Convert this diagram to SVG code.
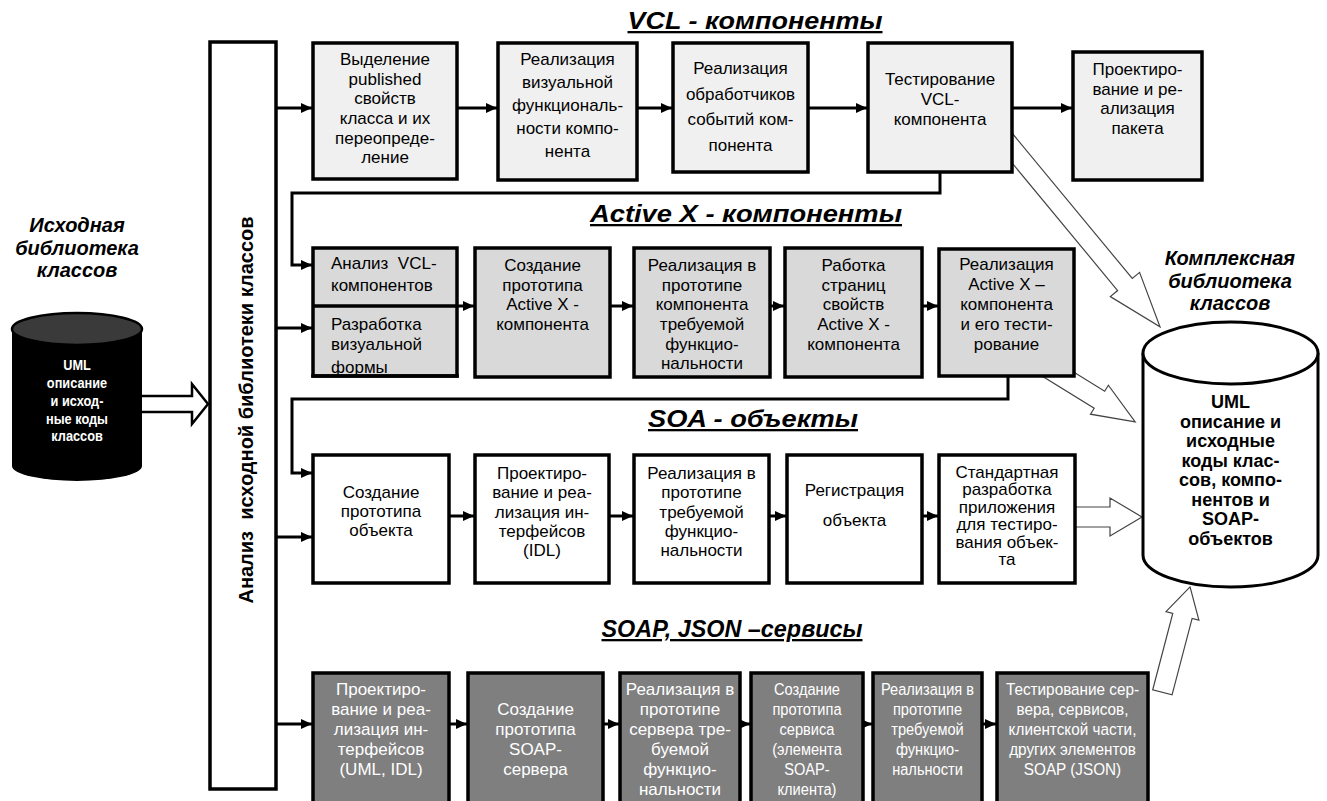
<svg xmlns="http://www.w3.org/2000/svg" width="1327" height="801" viewBox="0 0 1327 801">
<style>
  .box{stroke:#000;stroke-width:3.5}
  .vcl{fill:#f0f0f0}
  .ax{fill:#d9d9d9}
  .soa{fill:#fff}
  .soap{fill:#7f7f7f}
  .t{font-family:"Liberation Sans",Arial,sans-serif;font-size:17px;fill:#000;text-anchor:middle}
  .tl{text-anchor:start;white-space:pre}
  .tw{fill:#fff}
  .flow{fill:none;stroke:#000;stroke-width:3;marker-end:url(#ah)}
  .hollow{fill:#fff;stroke:#444;stroke-width:1.2;stroke-linejoin:miter}
  .title{font-family:"Liberation Sans",Arial,sans-serif;font-size:23px;font-weight:bold;font-style:italic;text-decoration:underline;text-anchor:middle}
  .lbl{font-family:"Liberation Sans",Arial,sans-serif;font-size:20px;font-weight:bold;font-style:italic;text-anchor:middle}
  .dbt{font-family:"Liberation Sans",Arial,sans-serif;font-weight:bold;text-anchor:middle}
</style>
<defs>
  <marker id="ah" markerUnits="userSpaceOnUse" markerWidth="11" markerHeight="10" refX="11" refY="5" orient="auto">
    <path d="M0,0 L11,5 L0,10 z" fill="#000"/>
  </marker>
</defs>

<!-- section titles -->
<g id="titles">
  <text class="title" x="755" y="29" textLength="255" lengthAdjust="spacingAndGlyphs">VCL - компоненты</text>
  <text class="title" x="746" y="222" textLength="312" lengthAdjust="spacingAndGlyphs">Active X - компоненты</text>
  <text class="title" x="753" y="427" textLength="210" lengthAdjust="spacingAndGlyphs">SOA - объекты</text>
  <text class="title" x="732" y="637" textLength="261" lengthAdjust="spacingAndGlyphs">SOAP, JSON –сервисы</text>
</g>

<!-- connectors -->
<g id="connectors">
  <!-- wide hollow arrows -->
  <polygon points="138,396 192,396 192,384 208,404 192,424 192,412 138,412" fill="#fff" stroke="#000" stroke-width="2.5"/>
  <polygon class="hollow" transform="translate(993 125) rotate(50.4)" points="0,-9.5 207,-9.5 207,-19 262,0 207,19 207,9.5 0,9.5"/>
  <polygon class="hollow" transform="translate(1033.5 359) rotate(31.7)" points="0,-10 77.5,-10 77.5,-17 119.5,0 77.5,17 77.5,10 0,10"/>
  <polygon class="hollow" transform="translate(1060 517)" points="0,-10 50,-10 50,-19 82,0 50,19 50,10 0,10"/>
  <polygon class="hollow" transform="translate(1162.4 692.3) rotate(-75.3)" points="0,-10 79,-10 79,-17 109,0 79,17 79,10 0,10"/>

  <!-- VCL row -->
  <path class="flow" d="M277,108 H312"/>
  <path class="flow" d="M457,108 H497"/>
  <path class="flow" d="M637,108 H672"/>
  <path class="flow" d="M808,108 H867"/>
  <path class="flow" d="M1012,108 H1072"/>
  <path class="flow" d="M940,172 V193 H292 V265 H312"/>
  <!-- Active X row -->
  <path class="flow" d="M277,328 H312"/>
  <path class="flow" d="M457,306 H474"/>
  <path class="flow" d="M610,306 H633"/>
  <path class="flow" d="M770,306 H784"/>
  <path class="flow" d="M922,306 H938"/>
  <path class="flow" d="M1008,376 V399 H292 V473 H312"/>
  <!-- SOA row -->
  <path class="flow" d="M277,537 H312"/>
  <path class="flow" d="M449,516 H474"/>
  <path class="flow" d="M609,516 H633"/>
  <path class="flow" d="M769,516 H786"/>
  <path class="flow" d="M922,516 H938"/>
  <!-- SOAP row -->
  <path class="flow" d="M277,724 H312"/>
  <path class="flow" d="M449,724 H467"/>
  <path class="flow" d="M603,724 H619"/>
  <path class="flow" d="M740,724 H750"/>
  <path class="flow" d="M863,724 H872"/>
  <path class="flow" d="M982,724 H996"/>
</g>

<!-- source library -->
<g id="src-lib">
  <text class="lbl" x="77" y="232">Исходная</text>
  <text class="lbl" x="77" y="255">библиотека</text>
  <text class="lbl" x="77" y="277">классов</text>
  <path d="M12,329 V466 A65,15 0 0 0 142,466 V329 Z" fill="#000"/>
  <ellipse cx="77" cy="329" rx="65" ry="16" fill="#3a3a3a" stroke="#000" stroke-width="2.5"/>
  <g class="dbt" font-size="14.5" fill="#fff" transform="translate(77 0) scale(0.88 1)">
    <text x="0" y="370">UML</text>
    <text x="0" y="388">описание</text>
    <text x="0" y="406">и исход-</text>
    <text x="0" y="424">ные коды</text>
    <text x="0" y="441">классов</text>
  </g>
</g>

<!-- analysis column -->
<g id="analysis">
  <rect class="box" x="210" y="42" width="66" height="747" fill="#fff"/>
  <text class="dbt" font-size="20" style="white-space:pre" transform="rotate(-90 253 410)" x="253" y="410">Анализ  исходной библиотеки классов</text>
</g>

<!-- VCL components -->
<g id="vcl1">
  <rect class="box vcl" x="313" y="43" width="144" height="136"/>
  <text class="t"><tspan x="385" y="65">Выделение</tspan><tspan x="385" y="84.5">published</tspan><tspan x="385" y="104">свойств</tspan><tspan x="385" y="124">класса и их</tspan><tspan x="385" y="143.5">переопреде-</tspan><tspan x="385" y="163">ление</tspan></text>
</g>
<g id="vcl2">
  <rect class="box vcl" x="498" y="43" width="139" height="137"/>
  <text class="t"><tspan x="567.5" y="65">Реализация</tspan><tspan x="567.5" y="88">визуальной</tspan><tspan x="567.5" y="111">функциональ-</tspan><tspan x="567.5" y="134">ности компо-</tspan><tspan x="567.5" y="157">нента</tspan></text>
</g>
<g id="vcl3">
  <rect class="box vcl" x="673" y="43" width="135" height="129"/>
  <text class="t"><tspan x="740.5" y="74">Реализация</tspan><tspan x="740.5" y="100">обработчиков</tspan><tspan x="740.5" y="125">событий ком-</tspan><tspan x="740.5" y="151">понента</tspan></text>
</g>
<g id="vcl4">
  <rect class="box vcl" x="868" y="43" width="144" height="129"/>
  <text class="t"><tspan x="940" y="85">Тестирование</tspan><tspan x="940" y="105">VCL-</tspan><tspan x="940" y="125">компонента</tspan></text>
</g>
<g id="vcl5">
  <rect class="box vcl" x="1073" y="52" width="129" height="128"/>
  <text class="t"><tspan x="1137.5" y="75">Проектиро-</tspan><tspan x="1137.5" y="94.5">вание и ре-</tspan><tspan x="1137.5" y="114">ализация</tspan><tspan x="1137.5" y="133.5">пакета</tspan></text>
</g>

<!-- Active X components -->
<g id="ax1">
  <rect class="box ax" x="313" y="248" width="144" height="128"/>
  <text class="t tl"><tspan x="331" y="269">Анализ  VCL-</tspan><tspan x="331" y="291">компонентов</tspan><tspan x="331" y="330">Разработка</tspan><tspan x="331" y="350">визуальной</tspan><tspan x="331" y="373">формы</tspan></text>
  <path d="M313,306 H457 M311.25,376 H458.75" stroke="#000" stroke-width="3.5" fill="none"/>
</g>
<g id="ax2">
  <rect class="box ax" x="475" y="248" width="135" height="129"/>
  <text class="t"><tspan x="542.5" y="271">Создание</tspan><tspan x="542.5" y="291">прототипа</tspan><tspan x="542.5" y="310">Active X -</tspan><tspan x="542.5" y="330">компонента</tspan></text>
</g>
<g id="ax3">
  <rect class="box ax" x="634" y="248" width="136" height="129"/>
  <text class="t"><tspan x="702" y="271">Реализация в</tspan><tspan x="702" y="291">прототипе</tspan><tspan x="702" y="310">компонента</tspan><tspan x="702" y="330">требуемой</tspan><tspan x="702" y="349.5">функцио-</tspan><tspan x="702" y="369">нальности</tspan></text>
</g>
<g id="ax4">
  <rect class="box ax" x="785" y="248" width="137" height="129"/>
  <text class="t"><tspan x="853.5" y="271">Работка</tspan><tspan x="853.5" y="291">страниц</tspan><tspan x="853.5" y="310">свойств</tspan><tspan x="853.5" y="330">Active X -</tspan><tspan x="853.5" y="349.5">компонента</tspan></text>
</g>
<g id="ax5">
  <rect class="box ax" x="939" y="249" width="135" height="127"/>
  <text class="t"><tspan x="1006.5" y="270">Реализация</tspan><tspan x="1006.5" y="290">Active X –</tspan><tspan x="1006.5" y="310">компонента</tspan><tspan x="1006.5" y="330">и его тести-</tspan><tspan x="1006.5" y="350">рование</tspan></text>
</g>

<!-- SOA objects -->
<g id="soa1">
  <rect class="box soa" x="313" y="455" width="136" height="128"/>
  <text class="t"><tspan x="381" y="498">Создание</tspan><tspan x="381" y="517">прототипа</tspan><tspan x="381" y="536">объекта</tspan></text>
</g>
<g id="soa2">
  <rect class="box soa" x="475" y="455" width="134" height="128"/>
  <text class="t"><tspan x="542" y="479">Проектиро-</tspan><tspan x="542" y="498">вание и реа-</tspan><tspan x="542" y="518">лизация ин-</tspan><tspan x="542" y="537">терфейсов</tspan><tspan x="542" y="556">(IDL)</tspan></text>
</g>
<g id="soa3">
  <rect class="box soa" x="634" y="455" width="135" height="128"/>
  <text class="t"><tspan x="701.5" y="479">Реализация в</tspan><tspan x="701.5" y="498">прототипе</tspan><tspan x="701.5" y="518">требуемой</tspan><tspan x="701.5" y="537">функцио-</tspan><tspan x="701.5" y="556">нальности</tspan></text>
</g>
<g id="soa4">
  <rect class="box soa" x="787" y="455" width="135" height="128"/>
  <text class="t"><tspan x="854.5" y="496">Регистрация</tspan><tspan x="854.5" y="526">объекта</tspan></text>
</g>
<g id="soa5">
  <rect class="box soa" x="939" y="455" width="136" height="128"/>
  <text class="t"><tspan x="1007" y="478">Стандартная</tspan><tspan x="1007" y="495">разработка</tspan><tspan x="1007" y="512.5">приложения</tspan><tspan x="1007" y="530">для тестиро-</tspan><tspan x="1007" y="547.5">вания объек-</tspan><tspan x="1007" y="565">та</tspan></text>
</g>

<!-- SOAP / JSON services -->
<g id="soap1">
  <rect class="box soap" x="313" y="673" width="136" height="131"/>
  <text class="t tw"><tspan x="381" y="695">Проектиро-</tspan><tspan x="381" y="715">вание и реа-</tspan><tspan x="381" y="735">лизация ин-</tspan><tspan x="381" y="755">терфейсов</tspan><tspan x="381" y="775">(UML, IDL)</tspan></text>
</g>
<g id="soap2">
  <rect class="box soap" x="468" y="673" width="135" height="131"/>
  <text class="t tw"><tspan x="535.5" y="715">Создание</tspan><tspan x="535.5" y="735">прототипа</tspan><tspan x="535.5" y="755">SOAP-</tspan><tspan x="535.5" y="775">сервера</tspan></text>
</g>
<g id="soap3">
  <rect class="box soap" x="620" y="673" width="120" height="131"/>
  <text class="t tw"><tspan x="680" y="695">Реализация в</tspan><tspan x="680" y="715">прототипе</tspan><tspan x="680" y="735">сервера тре-</tspan><tspan x="680" y="755">буемой</tspan><tspan x="680" y="775">функцио-</tspan><tspan x="680" y="795">нальности</tspan></text>
</g>
<g id="soap4">
  <rect class="box soap" x="751" y="673" width="112" height="131"/>
  <g transform="translate(807 0) scale(0.86 1)">
    <text class="t tw"><tspan x="0" y="695">Создание</tspan><tspan x="0" y="715">прототипа</tspan><tspan x="0" y="735">сервиса</tspan><tspan x="0" y="755">(элемента</tspan><tspan x="0" y="775">SOAP-</tspan><tspan x="0" y="795">клиента)</tspan></text>
  </g>
</g>
<g id="soap5">
  <rect class="box soap" x="873" y="673" width="109" height="131"/>
  <g transform="translate(927.5 0) scale(0.86 1)">
    <text class="t tw"><tspan x="0" y="695">Реализация в</tspan><tspan x="0" y="715">прототипе</tspan><tspan x="0" y="735">требуемой</tspan><tspan x="0" y="755">функцио-</tspan><tspan x="0" y="775">нальности</tspan></text>
  </g>
</g>
<g id="soap6">
  <rect class="box soap" x="997" y="673" width="151" height="131"/>
  <g transform="translate(1072.5 0) scale(0.9 1)">
    <text class="t tw"><tspan x="0" y="695">Тестирование сер-</tspan><tspan x="0" y="715">вера, сервисов,</tspan><tspan x="0" y="735">клиентской части,</tspan><tspan x="0" y="755">других элементов</tspan><tspan x="0" y="775">SOAP (JSON)</tspan></text>
  </g>
</g>

<!-- combined library -->
<g id="full-lib">
  <text class="lbl" x="1230" y="265">Комплексная</text>
  <text class="lbl" x="1230" y="288">библиотека</text>
  <text class="lbl" x="1230" y="310">классов</text>
  <path d="M1143,353 V555 A87.5,32 0 0 0 1318,555 V353" fill="#fff" stroke="#000" stroke-width="3"/>
  <ellipse cx="1230.5" cy="353" rx="87.5" ry="31" fill="#fff" stroke="#000" stroke-width="3"/>
  <g class="dbt" font-size="18" fill="#000">
    <text x="1230.5" y="408">UML</text>
    <text x="1230.5" y="427.5">описание и</text>
    <text x="1230.5" y="447">исходные</text>
    <text x="1230.5" y="466.5">коды клас-</text>
    <text x="1230.5" y="486">сов, компо-</text>
    <text x="1230.5" y="505.5">нентов и</text>
    <text x="1230.5" y="525">SOAP-</text>
    <text x="1230.5" y="544.5">объектов</text>
  </g>
</g>
</svg>
